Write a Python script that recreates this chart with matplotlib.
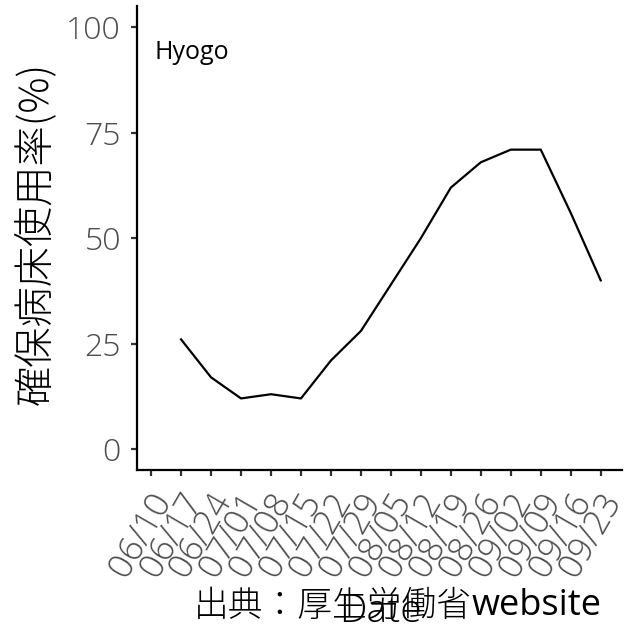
import matplotlib
matplotlib.use("Agg")
import matplotlib.pyplot as plt
import matplotlib.transforms as mtransforms
import pandas as pd

plt.rcParams["font.family"] = ["Noto Sans CJK JP", "DejaVu Sans"]

# data (weekly, Hyogo)
tick_dates = ["2020-06-10", "2020-06-17", "2020-06-24", "2020-07-01", "2020-07-08",
              "2020-07-15", "2020-07-22", "2020-07-29", "2020-08-05", "2020-08-12",
              "2020-08-19", "2020-08-26", "2020-09-02", "2020-09-09", "2020-09-16",
              "2020-09-23"]
tick_labels = ["06/10", "06/17", "06/24", "07/01", "07/08", "07/15", "07/22", "07/29",
               "08/05", "08/12", "08/19", "08/26", "09/02", "09/09", "09/16", "09/23"]
dates = tick_dates[1:]
usage = [26, 17, 12, 13, 12, 21, 28, 39, 50, 62, 68, 71, 71, 56, 40]
y_ticks = [0, 25, 50, 75, 100]

x_ticks = pd.to_datetime(tick_dates)
x = pd.to_datetime(dates)

num_font = ["Open Sans", "DejaVu Sans"]

fig = plt.figure(figsize=(6.26, 6.26), dpi=100)
ax = fig.add_axes([0.2188, 0.249, 0.775, 0.741])

ax.plot(x, usage, color="black", lw=1.6)

ax.set_ylim(-5, 105)
ax.set_xlim(x_ticks[0] - pd.Timedelta(days=3.3), x_ticks[0] + pd.Timedelta(days=110))
ax.set_yticks(y_ticks)
ax.set_yticklabels([str(v) for v in y_ticks])
ax.set_xticks(x_ticks)
ax.set_xticklabels(tick_labels, rotation=60, ha="right", va="baseline",
                   rotation_mode="anchor")

for side in ["top", "right"]:
    ax.spines[side].set_visible(False)
for side in ["left", "bottom"]:
    ax.spines[side].set_linewidth(1.6)

ax.tick_params(axis="both", length=4.5, width=1.6, color="#333333",
               labelcolor="#4D4D4D", labelsize=23, pad=7)
ax.tick_params(axis="x", pad=17, labelsize=25)
shift = mtransforms.ScaledTranslation(21 / 100, 0, fig.dpi_scale_trans)
for lab in ax.get_xticklabels():
    lab.set_transform(lab.get_transform() + shift)
for lab in ax.get_xticklabels() + ax.get_yticklabels():
    lab.set_fontweight("light")
    lab.set_family(num_font)

ax.set_ylabel("確保病床使用率(%)", fontsize=29, color="black", fontweight="light")
ax.yaxis.set_label_coords(-0.165, 0.51)

ax.text(0.037, 0.9, "Hyogo", transform=ax.transAxes, fontsize=18, color="black",
        ha="left", va="center", family=num_font)

fig.text(380 / 626, 1 - 612 / 626, "Date", fontsize=28, color="black",
         ha="center", va="center", family=num_font, fontweight="light")

# caption: CJK part light, "website" in a latin face
web = fig.text(602 / 626, 1 - 606 / 626, "website", fontsize=26, color="black",
               ha="right", va="center", family=num_font)
renderer = fig.canvas.get_renderer()
bb = web.get_window_extent(renderer)
fig.text(bb.x0 / fig.bbox.width, 1 - 606 / 626, "出典：厚生労働省", fontsize=25,
         color="black", ha="right", va="center", fontweight="light")

fig.savefig("out.png", dpi=100)
